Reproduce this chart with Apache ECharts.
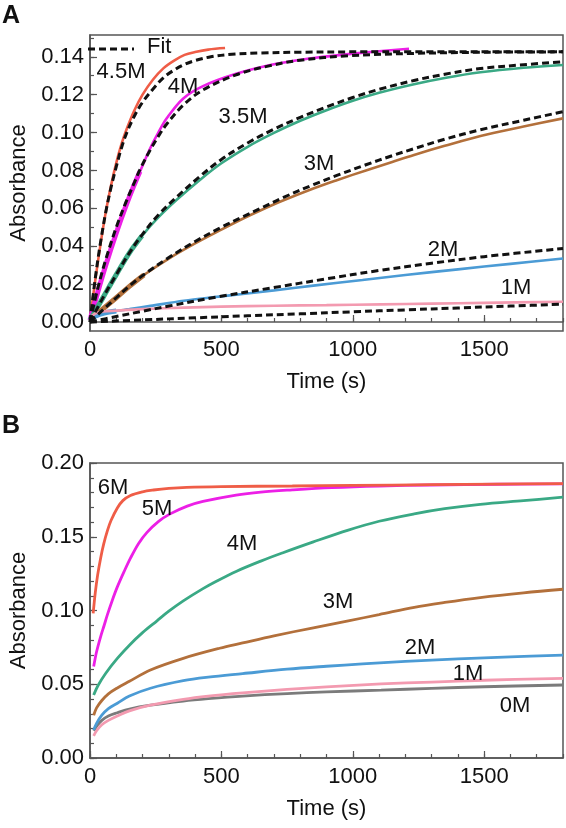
<!DOCTYPE html>
<html>
<head>
<meta charset="utf-8">
<script src="https://cdn.jsdelivr.net/npm/echarts@6/dist/echarts.min.js"></script>
<style>html,body{margin:0;padding:0;background:#fff;}#c{width:566px;height:828px;}</style>
</head>
<body>
<div id="c"></div>
<script>
// ---------- Panel A data: [time (s), absorbance] ----------
const a45M = [[0,0.001],[20,0.022],[40,0.041],[60,0.058],[80,0.072],[100,0.084],[120,0.094],[140,0.102],[170,0.112],[200,0.120],[240,0.128],[280,0.134],[320,0.138],[360,0.141],[400,0.1425],[450,0.1438],[514,0.1446]];
const a45MFit = [[0,0],[20,0.023],[40,0.042],[60,0.058],[80,0.071],[100,0.082],[120,0.092],[140,0.100],[170,0.109],[200,0.116],[240,0.123],[280,0.129],[320,0.133],[360,0.136],[400,0.138],[460,0.140],[540,0.1413],[650,0.142],[800,0.1424],[1000,0.1426],[1800,0.1427]];
const a4M = [[0,0.001],[30,0.016],[60,0.030],[100,0.047],[136,0.061],[167,0.072],[192,0.080],[230,0.092],[260,0.100],[292,0.1075],[355,0.118],[430,0.1245],[556,0.131],[682,0.1355],[770,0.1378],[858,0.1395],[983,0.1414],[1100,0.1429],[1214,0.1442]];
const a4MEarly = [[0,0.001],[30,0.016],[60,0.030],[100,0.047],[136,0.061],[167,0.072],[190,0.0795]];
const a4MFit = [[0,0],[30,0.018],[60,0.033],[100,0.050],[136,0.063],[167,0.073],[192,0.081],[230,0.091],[260,0.098],[292,0.1045],[355,0.1145],[430,0.1225],[556,0.1305],[682,0.1352],[800,0.1382],[983,0.1405],[1233,0.1418],[1500,0.1424],[1800,0.1426]];
const a35M = [[0,0.001],[50,0.013],[100,0.025],[150,0.0365],[198,0.0455],[260,0.0552],[330,0.0645],[418,0.075],[500,0.0838],[600,0.0925],[700,0.0998],[800,0.1062],[900,0.1118],[1000,0.1168],[1100,0.121],[1233,0.1255],[1350,0.1288],[1486,0.1318],[1650,0.1342],[1800,0.1357]];
const a35MEarly = [[0,0.001],[50,0.013],[100,0.025],[150,0.0365],[198,0.0455]];
const a35MFit = [[0,0],[50,0.013],[100,0.025],[150,0.0365],[198,0.046],[260,0.0565],[330,0.066],[418,0.0768],[500,0.0858],[600,0.0945],[700,0.1018],[800,0.108],[900,0.1135],[1000,0.1185],[1100,0.1228],[1233,0.1275],[1350,0.1308],[1486,0.1338],[1650,0.1358],[1800,0.1374]];
const a3M = [[0,0.001],[50,0.007],[100,0.0128],[150,0.0188],[205,0.0248],[300,0.0335],[400,0.0415],[500,0.0488],[581,0.0545],[650,0.059],[732,0.064],[850,0.0705],[942,0.075],[1050,0.080],[1150,0.0845],[1233,0.0882],[1350,0.093],[1486,0.0982],[1650,0.1032],[1800,0.1075]];
const a3MEarly = [[0,0.001],[50,0.007],[100,0.0128],[150,0.0188],[205,0.0248]];
const a3MFit = [[0,0],[50,0.0065],[100,0.0128],[150,0.019],[205,0.025],[300,0.034],[400,0.0425],[500,0.050],[581,0.0555],[650,0.060],[732,0.0655],[850,0.0725],[942,0.0775],[1050,0.083],[1150,0.0878],[1233,0.0915],[1350,0.0965],[1486,0.1015],[1650,0.1065],[1800,0.111]];
const a2M = [[0,0.001],[20,0.003],[54,0.0047],[100,0.0058],[150,0.0068],[230,0.0085],[357,0.0112],[450,0.0128],[581,0.0148],[700,0.0167],[850,0.0192],[1037,0.0222],[1200,0.0248],[1400,0.0278],[1600,0.0307],[1800,0.0335]];
const a2MEarly = [[0,0.001],[20,0.003],[54,0.0047],[100,0.0058]];
const a2MFit = [[0,0],[100,0.0029],[200,0.0057],[300,0.0084],[480,0.0131],[700,0.0182],[900,0.0228],[1100,0.0272],[1300,0.031],[1500,0.0345],[1800,0.0388]];
const a1M = [[0,0.002],[20,0.0045],[50,0.0055],[100,0.006],[200,0.0068],[357,0.0076],[500,0.0081],[700,0.0086],[900,0.0089],[1108,0.0093],[1300,0.0097],[1500,0.0101],[1800,0.0107]];
const a1MFit = [[0,0],[200,0.0011],[400,0.0022],[600,0.0033],[800,0.0043],[1000,0.0054],[1200,0.0064],[1400,0.0074],[1600,0.0084],[1800,0.0094]];

// ---------- Panel B data ----------
const b6M = [[12,0.098],[20,0.112],[29,0.124],[41,0.136],[52,0.145],[66,0.154],[80,0.161],[104,0.1695],[125,0.1745],[154,0.178],[200,0.1805],[242,0.1817],[300,0.1828],[368,0.1835],[500,0.184],[770,0.1844],[1000,0.1848],[1300,0.1853],[1550,0.1857],[1800,0.186]];
const b5M = [[14,0.062],[25,0.072],[40,0.082],[54,0.090],[66,0.097],[85,0.107],[104,0.116],[130,0.1265],[154,0.1355],[185,0.1455],[217,0.153],[260,0.1603],[305,0.1655],[370,0.1708],[430,0.174],[556,0.1783],[650,0.1803],[770,0.1818],[920,0.1833],[1100,0.1844],[1300,0.1851],[1550,0.1856],[1800,0.1859]];
const b4M = [[14,0.0427],[30,0.049],[60,0.0575],[104,0.0675],[150,0.0765],[200,0.085],[255,0.093],[300,0.0995],[355,0.1065],[430,0.1148],[481,0.1198],[556,0.1265],[650,0.1335],[732,0.139],[850,0.1465],[983,0.1545],[1100,0.1605],[1234,0.1655],[1350,0.169],[1485,0.172],[1650,0.1745],[1800,0.1768]];
const b3M = [[14,0.029],[25,0.034],[45,0.039],[70,0.0435],[104,0.0475],[150,0.052],[230,0.0597],[355,0.0676],[493,0.0744],[581,0.078],[700,0.0828],[850,0.0883],[983,0.093],[1100,0.0972],[1234,0.1022],[1350,0.1055],[1485,0.1088],[1650,0.112],[1800,0.1144]];
const b2M = [[14,0.019],[25,0.0235],[45,0.029],[70,0.0335],[104,0.0371],[150,0.042],[230,0.0473],[355,0.0524],[450,0.0548],[581,0.0572],[750,0.0602],[900,0.0622],[1037,0.0638],[1200,0.0655],[1400,0.0672],[1600,0.0686],[1800,0.0698]];
const b1M = [[14,0.015],[25,0.0185],[45,0.0225],[70,0.0255],[104,0.0285],[150,0.032],[230,0.0358],[355,0.0398],[450,0.042],[581,0.0442],[750,0.0465],[900,0.0482],[1108,0.0502],[1300,0.0515],[1500,0.0527],[1800,0.054]];
const b0M = [[14,0.0185],[25,0.0215],[45,0.0255],[70,0.0285],[104,0.0307],[150,0.0332],[230,0.0358],[355,0.0386],[450,0.0402],[581,0.042],[750,0.0437],[900,0.0448],[1108,0.046],[1300,0.0472],[1500,0.0483],[1800,0.0495]];

// ---------- Tick values ----------
const xLabels = [0, 500, 1000, 1500];
const xMinorTicks = [0,100,200,300,400,500,600,700,800,900,1000,1100,1200,1300,1400,1500,1600,1700,1800];
const yLabelsA = [0, 0.02, 0.04, 0.06, 0.08, 0.10, 0.12, 0.14];
const yMinorTicksA = [0,0.01,0.02,0.03,0.04,0.05,0.06,0.07,0.08,0.09,0.10,0.11,0.12,0.13,0.14,0.15];
const yLabelsB = [0, 0.05, 0.10, 0.15, 0.20];
const yMinorTicksB = [0,0.01,0.02,0.03,0.04,0.05,0.06,0.07,0.08,0.09,0.10,0.11,0.12,0.13,0.14,0.15,0.16,0.17,0.18,0.19,0.20];

// ---------- Styling ----------
const FONT = "'Liberation Sans', Arial, sans-serif";
const AX = '#555';
const TXT = '#111';
const C = {red:'#ef5d47', mag:'#ec1fe6', green:'#3aa985', brown:'#b3703b', blue:'#4b9bd5', pink:'#f39ab0', gray:'#7b7b7b', fit:'#111'};

function xAxisPair(g){
  return [
    {gridIndex:g, type:'value', min:0, max:1800, position:'bottom',
     axisLine:{lineStyle:{color:AX, width:1.5}},
     axisTick:{inside:true, length:4, customValues:xMinorTicks, lineStyle:{color:AX, width:1.2}},
     axisLabel:{customValues:xLabels, fontSize:22, color:TXT, margin:8, fontFamily:FONT,
                formatter:v => String(v)},
     splitLine:{show:false},
     name:'Time (s)', nameLocation:'middle', nameGap:40,
     nameTextStyle:{fontSize:22, color:TXT, fontFamily:FONT}},
    {gridIndex:g, type:'value', min:0, max:1800, position:'bottom',
     axisLine:{show:false},
     axisTick:{inside:true, length:7, customValues:xLabels, lineStyle:{color:AX, width:1.2}},
     axisLabel:{show:false}, splitLine:{show:false}}
  ];
}
function yAxisPair(g, min, max, labels, minor){
  return [
    {gridIndex:g, type:'value', min:min, max:max, position:'left',
     axisLine:{show:true, lineStyle:{color:AX, width:1.5}},
     axisTick:{show:true, inside:true, length:4, customValues:minor, lineStyle:{color:AX, width:1.2}},
     axisLabel:{customValues:labels, fontSize:22, color:TXT, margin:6, fontFamily:FONT,
                formatter:v => v.toFixed(2)},
     splitLine:{show:false},
     name:'Absorbance', nameLocation:'middle', nameGap:60,
     nameTextStyle:{fontSize:22, color:TXT, fontFamily:FONT}},
    {gridIndex:g, type:'value', min:min, max:max, position:'left',
     axisLine:{show:false},
     axisTick:{show:true, inside:true, length:7, customValues:labels, lineStyle:{color:AX, width:1.2}},
     axisLabel:{show:false}, splitLine:{show:false}}
  ];
}
function line(name, data, color, width, xi, yi, dashed, z){
  return {name:name, type:'line', data:data, xAxisIndex:xi, yAxisIndex:yi,
          showSymbol:false, symbol:'none', smooth:0.35, silent:true, animation:false, z:z||2,
          lineStyle:{color:color, width:width, type: dashed ? [7,4] : 'solid', cap:'butt'}};
}

const series = [
  // Panel A data
  line('4.5M', a45M, C.red, 2.6, 0, 0),
  line('4M', a4M, C.mag, 2.6, 0, 0),
  line('4M early', a4MEarly, C.mag, 5, 0, 0),
  line('3.5M', a35M, C.green, 2.6, 0, 0),
  line('3.5M early', a35MEarly, C.green, 5, 0, 0),
  line('3M', a3M, C.brown, 2.6, 0, 0),
  line('3M early', a3MEarly, C.brown, 5, 0, 0),
  line('2M', a2M, C.blue, 2.6, 0, 0),
  line('2M early', a2MEarly, C.blue, 5, 0, 0),
  line('1M', a1M, C.pink, 2.6, 0, 0),
  // Panel A fits
  line('Fit', a45MFit, C.fit, 3, 0, 0, true, 5),
  line('Fit 4M', a4MFit, C.fit, 3, 0, 0, true, 5),
  line('Fit 3.5M', a35MFit, C.fit, 3, 0, 0, true, 5),
  line('Fit 3M', a3MFit, C.fit, 3, 0, 0, true, 5),
  line('Fit 2M', a2MFit, C.fit, 3, 0, 0, true, 5),
  line('Fit 1M', a1MFit, C.fit, 3, 0, 0, true, 5),
  // Panel B
  line('B 0M', b0M, C.gray, 2.8, 2, 2),
  line('B 1M', b1M, C.pink, 2.8, 2, 2),
  line('B 2M', b2M, C.blue, 2.8, 2, 2),
  line('B 3M', b3M, C.brown, 2.8, 2, 2),
  line('B 4M', b4M, C.green, 2.8, 2, 2),
  line('B 5M', b5M, C.mag, 2.8, 2, 2),
  line('B 6M', b6M, C.red, 2.8, 2, 2)
];

function txt(x, y, s, extra){
  return Object.assign({type:'text', x:x, y:y, silent:true, z:100,
    style:{text:s, fill:TXT, font:'22px ' + FONT, textAlign:'center', textVerticalAlign:'middle'}}, extra||{});
}
const graphic = [
  txt(11, 16, 'A', {style:{text:'A', fill:TXT, font:'bold 25px ' + FONT, textAlign:'center', textVerticalAlign:'middle'}}),
  txt(11, 426, 'B', {style:{text:'B', fill:TXT, font:'bold 25px ' + FONT, textAlign:'center', textVerticalAlign:'middle'}}),
  {type:'line', silent:true, z:100, shape:{x1:88, y1:49, x2:134, y2:49}, style:{stroke:C.fit, lineWidth:3, lineDash:[7,4]}},
  txt(147, 47, 'Fit', {style:{text:'Fit', fill:TXT, font:'22px ' + FONT, textAlign:'left', textVerticalAlign:'middle'}}),
  txt(121, 72, '4.5M'),
  txt(183, 87, '4M'),
  txt(243, 117, '3.5M'),
  txt(319, 164, '3M'),
  txt(443, 250, '2M'),
  txt(516, 288, '1M'),
  txt(113, 488, '6M'),
  txt(157, 509, '5M'),
  txt(242, 544, '4M'),
  txt(338, 602, '3M'),
  txt(420, 648, '2M'),
  txt(468, 674, '1M'),
  txt(515, 706, '0M')
];

const chart = echarts.init(document.getElementById('c'), null, {renderer:'canvas'});
chart.setOption({
  animation:false,
  backgroundColor:'#fff',
  textStyle:{fontFamily:FONT},
  grid:[
    {left:86, right:3, top:35, height:296, show:true, borderColor:AX, borderWidth:1.5, backgroundColor:'transparent'},
    {left:86, right:3, top:463, height:295, show:true, borderColor:AX, borderWidth:1.5, backgroundColor:'transparent'}
  ],
  xAxis:[].concat(xAxisPair(0), xAxisPair(1)),
  yAxis:[].concat(yAxisPair(0, -0.00475, 0.1515, yLabelsA, yMinorTicksA),
                  yAxisPair(1, 0, 0.2, yLabelsB, yMinorTicksB)),
  series:series,
  graphic:graphic
});
</script>
</body>
</html>
